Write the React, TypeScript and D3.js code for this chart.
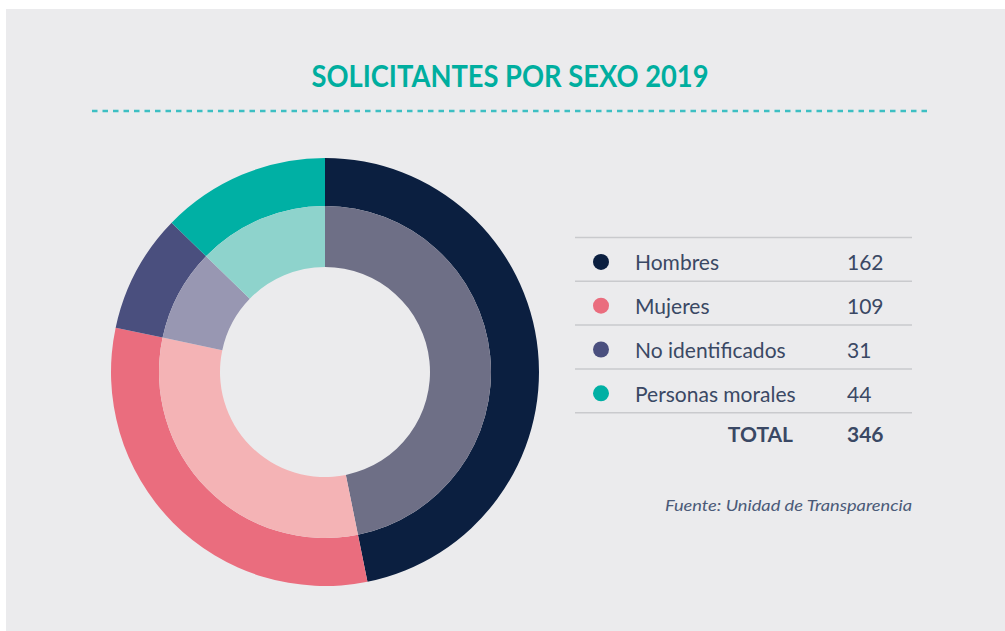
import React from 'react';
import * as d3 from 'd3';

const TITLE = 'SOLICITANTES POR SEXO 2019';
const CATEGORIES = ['Hombres', 'Mujeres', 'No identificados', 'Personas morales'];
const VALUES = [162, 109, 31, 44];
const OUTER_COLORS = ['#0b1f40', '#ea6d7e', '#4a4f7e', '#00b0a4'];
const INNER_COLORS = ['#6e6f86', '#f4b3b5', '#9897b2', '#8ed3cc'];
const SOURCE = 'Fuente: Unidad de Transparencia';

const W = 1005;
const H = 631;
const TEXT = '#3a4864';
const FONT = 'Lato, "Open Sans", sans-serif';

export default function App() {
  const cx = 325;
  const cy = 372;

  const pie = d3.pie<number>().sort(null).value(d => d);
  const arcs = pie(VALUES);
  const outerArc = d3.arc<d3.PieArcDatum<number>>().innerRadius(166).outerRadius(214);
  const innerArc = d3.arc<d3.PieArcDatum<number>>().innerRadius(105).outerRadius(166);

  const total = d3.sum(VALUES);

  // table rows
  const rowY = d3.scaleLinear().domain([0, 1]).range([237.5, 281.3]);
  const rows = d3.range(CATEGORIES.length + 1);

  return (
    <svg width={W} height={H} style={{ position: 'absolute', left: 0, top: 0 }}>
      <rect x={0} y={0} width={W} height={H} fill="#ffffff" />
      <rect x={6} y={9} width={W - 6} height={H - 9} fill="#ebebed" />

      <text x={510} y={87} textAnchor="middle" fontFamily={FONT} fontWeight={700}
        fontSize={30} fill="#00ae9f" textLength={397} lengthAdjust="spacingAndGlyphs">
        {TITLE}
      </text>
      <line x1={92} x2={930} y1={111} y2={111} stroke="#3dbfc3" strokeWidth={2.5}
        strokeDasharray="5.5 5" />

      <g transform={`translate(${cx},${cy})`}>
        {arcs.map((a, i) => (
          <path key={`o${i}`} d={outerArc(a) || ''} fill={OUTER_COLORS[i]} />
        ))}
        {arcs.map((a, i) => (
          <path key={`i${i}`} d={innerArc(a) || ''} fill={INNER_COLORS[i]} />
        ))}
      </g>

      {rows.map(r => (
        <line key={`l${r}`} x1={575} x2={912} y1={rowY(r)} y2={rowY(r)}
          stroke="#c9cacd" strokeWidth={1.5} />
      ))}

      {CATEGORIES.map((c, i) => {
        const mid = (rowY(i) + rowY(i + 1)) / 2;
        return (
          <g key={c}>
            <circle cx={601} cy={mid + 2.5} r={8} fill={OUTER_COLORS[i]} />
            <text x={635} y={mid + 11} fontFamily={FONT} fontSize={21} fill={TEXT}>{c}</text>
            <text x={847} y={mid + 11} fontFamily={FONT} fontSize={21} fill={TEXT}>{VALUES[i]}</text>
          </g>
        );
      })}

      <text x={793} y={442} textAnchor="end" fontFamily={FONT} fontWeight={700}
        fontSize={21} fill={TEXT}>TOTAL</text>
      <text x={847} y={442} fontFamily={FONT} fontWeight={700} fontSize={21} fill={TEXT}>{total}</text>

      <text x={665} y={511} fontFamily={FONT} fontStyle="italic"
        fontSize={15.5} fill="#4a5a78" textLength={247} lengthAdjust="spacingAndGlyphs">{SOURCE}</text>
    </svg>
  );
}
